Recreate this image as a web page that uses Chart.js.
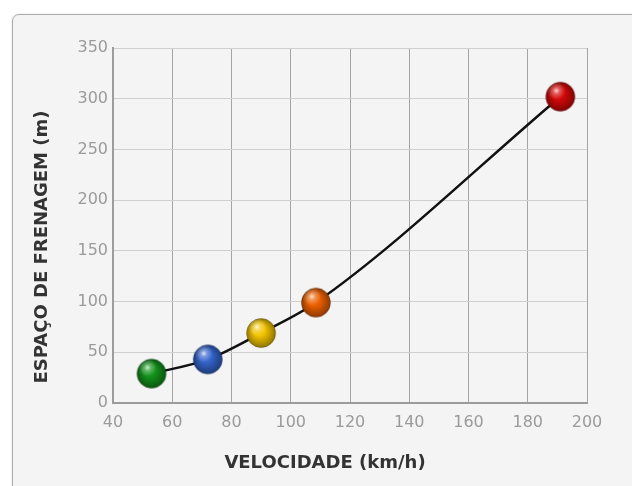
<!DOCTYPE html>
<html>
<head>
<meta charset="utf-8">
<script src="https://cdn.jsdelivr.net/npm/chart.js@4.4.0/dist/chart.umd.min.js"></script>
<style>
  html, body { margin: 0; padding: 0; background: #fff; overflow: hidden; }
  #panel {
    position: absolute; left: 12px; top: 14px; width: 660px; height: 520px;
    border: 1px solid #acacac; border-radius: 7px; background: #f4f4f4;
    box-shadow: 0 0 2px rgba(0, 0, 0, 0.15);
  }
  #chart { position: absolute; left: 0; top: 0; }
</style>
</head>
<body>
<div id="panel"></div>
<canvas id="chart" width="632" height="486"></canvas>
<script>
const speeds = [53, 72, 90, 108.5, 191];
const distances = [29, 43, 69, 99, 302];
const ballColors = ["#13921b", "#3464cc", "#f2c400", "#ec6000", "#d40808"];
const xTicks = [40, 60, 80, 100, 120, 140, 160, 180, 200];
const yTicks = [0, 50, 100, 150, 200, 250, 300, 350];
const xTitle = "VELOCIDADE (km/h)";
const yTitle = "ESPAÇO DE FRENAGEM (m)";

// glossy ball used as point style
function makeBall(color) {
  const size = 32, r = 14.5, c = size / 2;
  const cv = document.createElement("canvas");
  cv.width = size;
  cv.height = size;
  const ctx = cv.getContext("2d");
  ctx.beginPath();
  ctx.arc(c, c, r, 0, Math.PI * 2);
  ctx.fillStyle = color;
  ctx.fill();
  let g = ctx.createRadialGradient(c - 2, c - 3, r * 0.4, c, c, r);
  g.addColorStop(0, "rgba(0,0,0,0)");
  g.addColorStop(1, "rgba(0,0,0,0.4)");
  ctx.fillStyle = g;
  ctx.fill();
  g = ctx.createRadialGradient(c - 4, c - 6, 0, c - 4, c - 6, 9);
  g.addColorStop(0, "rgba(255,255,255,0.85)");
  g.addColorStop(0.35, "rgba(255,255,255,0.35)");
  g.addColorStop(1, "rgba(255,255,255,0)");
  ctx.fillStyle = g;
  ctx.fill();
  ctx.lineWidth = 1;
  ctx.strokeStyle = "rgba(0,0,0,0.25)";
  ctx.stroke();
  return cv;
}

const axisTitles = {
  id: "axisTitles",
  afterDraw(chart) {
    const ctx = chart.ctx;
    ctx.save();
    ctx.font = "bold 18px 'DejaVu Sans'";
    ctx.fillStyle = "#333";
    ctx.textAlign = "center";
    ctx.textBaseline = "middle";
    ctx.fillText(xTitle, 325, 463);
    ctx.translate(42, 247);
    ctx.rotate(-Math.PI / 2);
    ctx.fillText(yTitle, 0, 0);
    ctx.restore();
  },
};

Chart.defaults.font.family = "'DejaVu Sans', sans-serif";

new Chart(document.getElementById("chart"), {
  type: "line",
  data: {
    datasets: [
      {
        data: speeds.map((s, i) => ({ x: s, y: distances[i] })),
        borderColor: "#111",
        borderWidth: 2.5,
        cubicInterpolationMode: "monotone",
        pointStyle: ballColors.map(makeBall),
        pointRadius: 14,
        clip: false,
      },
    ],
  },
  options: {
    responsive: false,
    animation: false,
    layout: { padding: { top: 48, right: 45, left: 0, bottom: 0 } },
    plugins: { legend: { display: false }, tooltip: { enabled: false } },
    scales: {
      x: {
        type: "linear",
        min: 40,
        max: 200,
        afterBuildTicks: (s) => { s.ticks = xTicks.map((v) => ({ value: v })); },
        afterFit: (s) => { s.height = 83; },
        ticks: { color: "#9a9a9a", font: { size: 16 }, padding: 10 },
        grid: { color: "#a4a4a4", drawTicks: false },
        border: { color: "#9c9c9c", width: 2 },
      },
      y: {
        min: 0,
        max: 350,
        afterBuildTicks: (s) => { s.ticks = yTicks.map((v) => ({ value: v })); },
        afterFit: (s) => { s.width = 113; },
        ticks: { color: "#9a9a9a", font: { size: 16 }, padding: 5 },
        grid: { color: "#cfcfcf", drawTicks: false },
        border: { color: "#9c9c9c", width: 2 },
      },
    },
  },
  plugins: [axisTitles],
});
</script>
</body>
</html>
